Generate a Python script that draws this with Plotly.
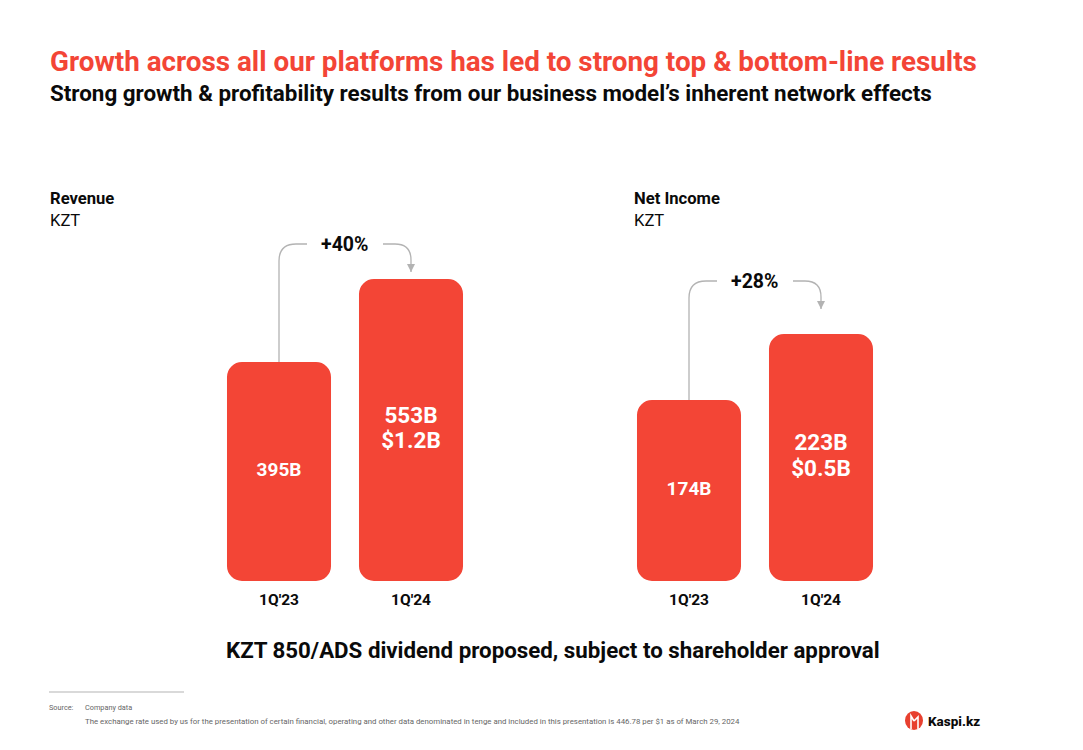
import plotly.graph_objects as go
from plotly.subplots import make_subplots

W, H = 1083, 750
RED = "#F34536"
GREY = "#B3B3B3"
INK = "#0A0A0A"
FONT = "Roboto"

# data, bar heights as drawn on the slide (the first bars are not quite to scale with their labels)
quarters = ["1Q'23", "1Q'24"]
revenue = [401, 553]
net_income = [163.4, 223]
revenue_labels = ["395B", "553B"]
net_income_labels = ["174B", "223B"]
revenue_usd = ["", "$1.2B"]
net_income_usd = ["", "$0.5B"]
revenue_growth = "+40%"
net_income_growth = "+28%"


def px(x):
    return x / W


def py(y):
    return 1 - y / H


fig = make_subplots(rows=1, cols=2)


def add_bars(values, labels, usd, col):
    # an explicit base makes plotly round all four corners
    fig.add_trace(go.Bar(x=quarters, y=values, base=[0, 0]), row=1, col=col)
    mid = [v / 2 for v in values]
    # single line label sits on the middle, two line label is split around it
    fig.add_trace(go.Scatter(x=quarters[:1], y=mid[:1], mode="text", text=labels[:1],
                             textposition="middle center",
                             textfont=dict(family=FONT, color="white", size=19, weight=700)),
                  row=1, col=col)
    for line, pos in [(labels, "top center"), (usd, "bottom center")]:
        fig.add_trace(go.Scatter(x=quarters[1:], y=mid[1:], mode="markers+text", text=line[1:],
                                 textposition=pos,
                                 marker=dict(size=1, opacity=0),
                                 textfont=dict(family=FONT, color="white", size=22.5, weight=700)),
                      row=1, col=col)


add_bars(revenue, revenue_labels, revenue_usd, 1)
add_bars(net_income, net_income_labels, net_income_usd, 2)
fig.update_traces(selector=dict(type="bar"),
                  marker=dict(color=RED, cornerradius=15, line_width=0))
fig.update_traces(showlegend=False, hoverinfo="skip")

fig.update_xaxes(showgrid=False, showline=False, zeroline=False,
                 ticks="outside", ticklen=4, tickcolor="rgba(0,0,0,0)",
                 tickfont=dict(family=FONT, size=15.5, color=INK, weight=700))
fig.update_yaxes(visible=False, showgrid=False, zeroline=False)
fig.update_xaxes(domain=[px(213), px(477)], row=1, col=1)
fig.update_xaxes(domain=[px(623), px(887)], row=1, col=2)
fig.update_yaxes(domain=[py(581), py(230)], range=[0, 642.7], row=1, col=1)
fig.update_yaxes(domain=[py(581), py(230)], range=[0, 316.9], row=1, col=2)


def growth_arrow(x0, y0, y_top, x1, x2, x3, y_tip):
    # bracket from first bar up and over to the second one
    left = (f"M {px(x0)} {py(y0)} L {px(x0)} {py(y_top + 17)} "
            f"Q {px(x0)} {py(y_top)} {px(x0 + 17)} {py(y_top)} L {px(x1)} {py(y_top)}")
    right = (f"M {px(x2)} {py(y_top)} L {px(x3 - 16)} {py(y_top)} "
             f"Q {px(x3)} {py(y_top)} {px(x3)} {py(y_top + 16)} L {px(x3)} {py(y_tip)}")
    head = (f"M {px(x3 - 4)} {py(y_tip - 8)} L {px(x3 + 4)} {py(y_tip - 8)} "
            f"L {px(x3)} {py(y_tip)} Z")
    for path in [left, right]:
        fig.add_shape(type="path", path=path, xref="paper", yref="paper",
                      line=dict(color=GREY, width=1.3))
    fig.add_shape(type="path", path=head, xref="paper", yref="paper",
                  fillcolor=GREY, line_width=0)


growth_arrow(279, 362, 244, 307, 383, 411, 272)
growth_arrow(689, 400, 281, 717, 793, 821, 309)


def text(x, y, s, size, color=INK, weight=400, anchor="left"):
    fig.add_annotation(x=px(x), y=py(y), xref="paper", yref="paper", text=s,
                       showarrow=False, xanchor=anchor, yanchor="middle", align=anchor,
                       font=dict(family=FONT, size=size, color=color, weight=weight),
                       borderpad=0, borderwidth=0)


text(50, 61, "Growth across all our platforms has led to strong top &amp; bottom-line results",
     27.8, RED, 700)
text(50, 93, "Strong growth &amp; profitability results from our business model’s inherent network effects",
     22.4, INK, 700)
text(50, 198, "Revenue", 16.6, weight=700)
text(50, 220, "KZT", 16.6)
text(634, 198, "Net Income", 16.6, weight=700)
text(634, 220, "KZT", 16.6)
text(344.5, 244.5, revenue_growth, 19.5, weight=700, anchor="center")
text(754.5, 281.5, net_income_growth, 19.5, weight=700, anchor="center")
text(553, 650, "KZT 850/ADS dividend proposed, subject to shareholder approval",
     22.3, weight=700, anchor="center")

fig.add_shape(type="line", xref="paper", yref="paper", x0=px(49), x1=px(184),
              y0=py(692), y1=py(692), line=dict(color=GREY, width=1))
text(49, 707, "Source:", 7.3, "#666666")
text(85, 707, "Company data", 7.3, "#666666")
text(85, 721, "The exchange rate used by us for the presentation of certain financial, operating and other "
     "data denominated in tenge and included in this presentation is 446.78 per $1 as of March 29, 2024",
     7.83, "#666666")

# logo
fig.add_shape(type="circle", xref="paper", yref="paper", x0=px(905), x1=px(923),
              y0=py(730), y1=py(711), fillcolor="#E8402F", line_width=0)
for path in [
    f"M {px(911)} {py(729)} L {px(911)} {py(716)} L {px(914)} {py(721)}",
    f"M {px(918)} {py(729)} L {px(918)} {py(717)} L {px(914)} {py(721)}",
]:
    fig.add_shape(type="path", path=path, xref="paper", yref="paper",
                  line=dict(color="white", width=1.6))
text(928, 721, "Kaspi.kz", 13.5, weight=800)

fig.update_layout(
    width=W,
    height=H,
    margin=dict(l=0, r=0, t=0, b=0),
    paper_bgcolor="white",
    plot_bgcolor="white",
    barmode="overlay",
    bargap=0.212,
    showlegend=False,
)

fig.write_html("out.html", config={"displayModeBar": False},
               post_script="document.body.style.margin = '0';")
